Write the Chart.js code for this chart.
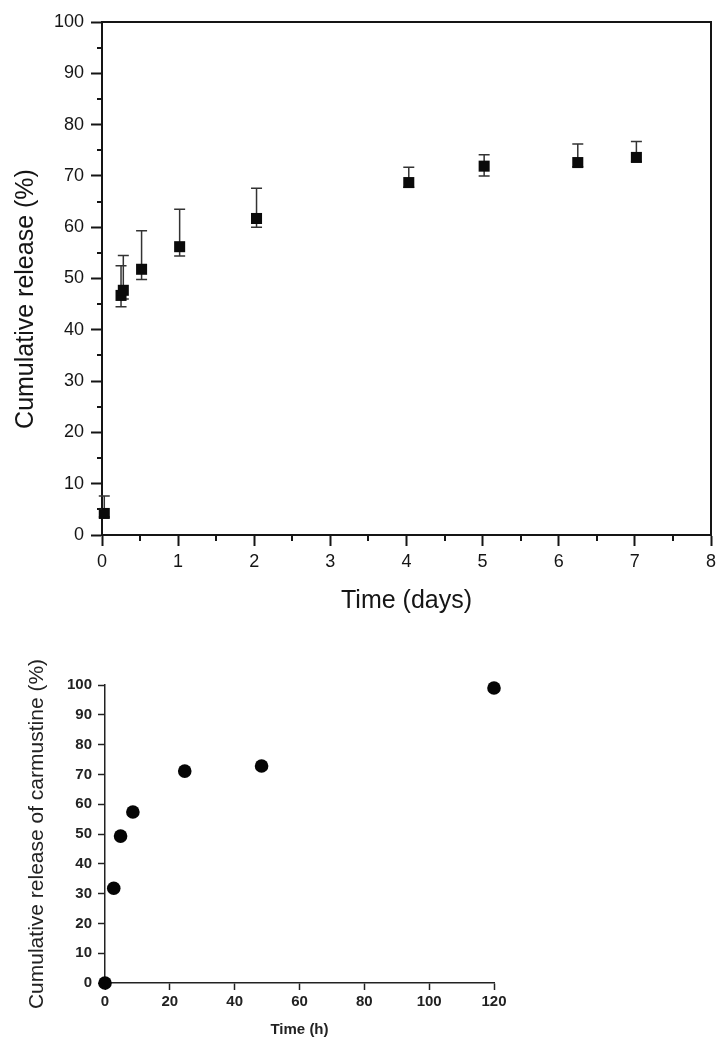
<!DOCTYPE html>
<html>
<head>
<meta charset="utf-8">
<script src="https://cdn.jsdelivr.net/npm/chart.js@4/dist/chart.umd.min.js"></script>
<style>
  html, body { margin: 0; padding: 0; background: #ffffff; }
  #wrap { position: relative; width: 724px; height: 1050px; }
  canvas { position: absolute; left: 0; }
  #c1 { top: 0; }
  #c2 { top: 625px; }
</style>
</head>
<body>
<div id="wrap">
  <canvas id="c1" width="724" height="625"></canvas>
  <canvas id="c2" width="724" height="425"></canvas>
</div>
<script>
// ---------- Top chart data (days vs cumulative release %) ----------
const topDays    = [0.03, 0.25, 0.28, 0.52, 1.02, 2.03, 4.03, 5.02, 6.25, 7.02];
const topRelease = [4.2, 46.7, 47.7, 51.8, 56.2, 61.7, 68.7, 71.9, 72.6, 73.6];
const topUpper   = [7.6, 52.5, 54.5, 59.3, 63.5, 67.6, 71.7, 74.1, 76.2, 76.7];
const topLower   = [3.5, 44.5, 46.0, 49.8, 54.4, 60.0, 67.8, 70.0, 71.8, 72.8];
const topXMinor  = [0.5, 1.5, 2.5, 3.5, 4.5, 5.5, 6.5, 7.5];
const topYMinor  = [5, 15, 25, 35, 45, 55, 65, 75, 85, 95];
const topYTitle  = 'Cumulative release (%)';
const topXTitle  = 'Time (days)';

// ---------- Bottom chart data (hours vs carmustine release %) ----------
const botHours   = [0, 2.7, 4.8, 8.6, 24.6, 48.3, 120];
const botRelease = [0, 31.8, 49.3, 57.4, 71.1, 72.8, 99.0];
const botYTitle  = 'Cumulative release of carmustine (%)';
const botXTitle  = 'Time (h)';

const FONT = '"Liberation Sans", Arial, Helvetica, sans-serif';
const INK = '#151515';

const errorBars = {
  id: 'errorBars',
  beforeDatasetsDraw(chart) {
    const { ctx, scales: { x, y } } = chart;
    ctx.save();
    ctx.strokeStyle = '#333';
    ctx.lineWidth = 1.5;
    const cap = 5.5;
    topDays.forEach((d, i) => {
      const px = x.getPixelForValue(d);
      const hi = y.getPixelForValue(topUpper[i]);
      const lo = y.getPixelForValue(topLower[i]);
      ctx.beginPath();
      ctx.moveTo(px, lo); ctx.lineTo(px, hi);
      ctx.moveTo(px - cap, hi); ctx.lineTo(px + cap, hi);
      ctx.moveTo(px - cap, lo); ctx.lineTo(px + cap, lo);
      ctx.stroke();
    });
    ctx.restore();
  }
};

const frameAndMinor = {
  id: 'frameAndMinor',
  afterDraw(chart) {
    const { ctx, chartArea: a, scales: { x, y } } = chart;
    ctx.save();
    ctx.strokeStyle = INK;
    ctx.lineWidth = 2;
    ctx.beginPath();
    ctx.moveTo(a.left, a.top); ctx.lineTo(a.right, a.top); ctx.lineTo(a.right, a.bottom);
    topYMinor.forEach(v => {
      const py = Math.round(y.getPixelForValue(v));
      ctx.moveTo(a.left - 5, py); ctx.lineTo(a.left, py);
    });
    topXMinor.forEach(v => {
      const px = Math.round(x.getPixelForValue(v));
      ctx.moveTo(px, a.bottom); ctx.lineTo(px, a.bottom + 6);
    });
    ctx.stroke();
    // rotated y-axis title, placed along the axis as in the reference
    ctx.fillStyle = INK;
    ctx.font = '25px ' + FONT;
    ctx.textAlign = 'center';
    ctx.textBaseline = 'middle';
    ctx.translate(26, y.getPixelForValue(46));
    ctx.rotate(-Math.PI / 2);
    ctx.fillText(topYTitle, 0, 0);
    ctx.restore();
  }
};

new Chart(document.getElementById('c1'), {
  type: 'scatter',
  data: {
    datasets: [{
      data: topDays.map((d, i) => ({ x: d, y: topRelease[i] })),
      pointStyle: 'rect',
      pointRadius: 7.8,
      pointHoverRadius: 7.8,
      backgroundColor: '#0a0a0a',
      borderColor: '#0a0a0a',
      borderWidth: 0,
      clip: false
    }]
  },
  options: {
    responsive: false,
    animation: false,
    events: [],
    layout: { padding: { top: 22, right: 13, left: 0, bottom: 0 } },
    plugins: { legend: { display: false }, tooltip: { enabled: false } },
    scales: {
      x: {
        type: 'linear', min: 0, max: 8,
        afterFit(s) { s.height = 90; },
        ticks: { stepSize: 1, color: INK, font: { family: FONT, size: 18 }, padding: 5, maxRotation: 0 },
        grid: { drawOnChartArea: false, drawTicks: true, tickLength: 11, tickWidth: 2, tickColor: INK },
        border: { display: true, width: 2, color: INK },
        title: { display: true, text: topXTitle, color: INK, font: { family: FONT, size: 25 }, padding: { top: 0, bottom: 9 } }
      },
      y: {
        type: 'linear', min: 0, max: 100,
        afterFit(s) { s.width = 102; },
        ticks: { stepSize: 10, color: INK, font: { family: FONT, size: 18 }, padding: 7 },
        grid: { drawOnChartArea: false, drawTicks: true, tickLength: 11, tickWidth: 2, tickColor: INK },
        border: { display: true, width: 2, color: INK },
        title: { display: false }
      }
    }
  },
  plugins: [errorBars, frameAndMinor]
});

new Chart(document.getElementById('c2'), {
  type: 'scatter',
  data: {
    datasets: [{
      data: botHours.map((h, i) => ({ x: h, y: botRelease[i] })),
      pointStyle: 'circle',
      pointRadius: 6.8,
      pointHoverRadius: 6.8,
      backgroundColor: '#050505',
      borderColor: '#050505',
      borderWidth: 0,
      clip: false
    }]
  },
  options: {
    responsive: false,
    animation: false,
    events: [],
    layout: { padding: { top: 60, right: 230, left: 0, bottom: 0 } },
    plugins: { legend: { display: false }, tooltip: { enabled: false } },
    scales: {
      x: {
        type: 'linear', min: 0, max: 120,
        afterFit(s) { s.height = 67; },
        ticks: { stepSize: 20, color: '#222', font: { family: FONT, size: 15, weight: 'bold' }, padding: 3, maxRotation: 0 },
        grid: { drawOnChartArea: false, drawTicks: true, tickLength: 7, tickWidth: 1.5, tickColor: '#222' },
        border: { display: true, width: 1.5, color: '#222' },
        title: { display: true, text: botXTitle, color: '#222', font: { family: FONT, size: 15, weight: 'bold' }, padding: { top: 0, bottom: 11 } }
      },
      y: {
        type: 'linear', min: 0, max: 100,
        afterFit(s) { s.width = 105; },
        ticks: { stepSize: 10, color: '#222', font: { family: FONT, size: 15, weight: 'bold' }, padding: 6 },
        grid: { drawOnChartArea: false, drawTicks: true, tickLength: 7, tickWidth: 1.5, tickColor: '#222' },
        border: { display: true, width: 1.5, color: '#222' },
        title: { display: true, text: botYTitle, color: '#222', font: { family: FONT, size: 21 }, padding: { top: 25, bottom: 0 } }
      }
    }
  }
});
</script>
</body>
</html>
